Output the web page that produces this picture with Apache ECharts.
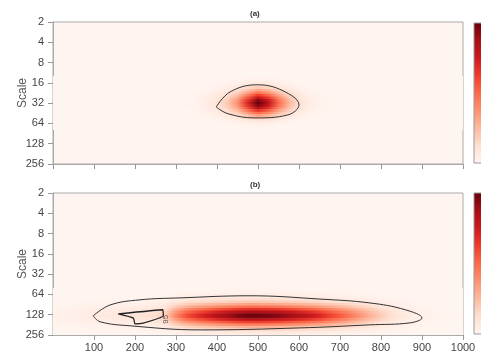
<!DOCTYPE html>
<html><head><meta charset="utf-8">
<script src="https://cdn.jsdelivr.net/npm/echarts@6/dist/echarts.min.js"></script>
<style>html,body{margin:0;padding:0;background:#fff}#c{width:481px;height:356px}</style>
</head><body><div id="c"></div>
<script>
// ---- data ----
const xTicks = [0,100,200,300,400,500,600,700,800,900,1000];
const yTicks = [2,4,8,16,32,64,128,256];
const panelTitles = ['(a)','(b)'];
const colorStops = ['#fff5f0','#fee0d2','#fcbba1','#fc9272','#fb6a4a','#ef3b2c','#cb181d','#a50f15','#67000d'];

// panel (a): power profile along time and along log2(scale)
const aX    = [0,300,325,350,375,400,425,450,475,500,525,550,575,600,625,650,675,700,1000];
const aXVal = [0,0,0.01,0.02,0.05,0.1,0.2,0.38,0.7,1.0,0.8,0.5,0.27,0.12,0.05,0.02,0.01,0,0];
const aLog2 = [3.75,3.875,4,4.125,4.25,4.375,4.5,4.625,4.75,4.875,5,5.125,5.25,5.375,5.5,5.625,5.75,5.875,6,6.125,6.25];
const aLVal = [0.01,0.03,0.06,0.11,0.2,0.32,0.47,0.63,0.8,0.93,1.0,0.95,0.83,0.67,0.5,0.34,0.21,0.11,0.05,0.02,0.01];
const aContour = [[398,36.5],[432,21.8],[498,17.1],[561,21],[600,34],[573,47.8],[493,53],[427,46],[398,36.5]];

// panel (b)
const bX    = [0,25,50,75,100,125,150,175,200,225,250,275,300,325,350,375,400,425,450,475,500,525,550,575,600,625,650,675,700,725,750,775,800,825,850,875,900,925,950,975,1000];
const bXVal = [0.02,0.03,0.04,0.05,0.06,0.07,0.08,0.09,0.1,0.11,0.13,0.2,0.42,0.58,0.68,0.76,0.84,0.9,0.96,1.0,1.0,0.98,0.95,0.9,0.85,0.79,0.72,0.63,0.55,0.46,0.37,0.28,0.2,0.13,0.08,0.05,0.03,0.02,0.01,0,0];
const bLog2 = [5.75,5.875,6,6.125,6.25,6.375,6.5,6.625,6.75,6.875,7,7.125,7.25,7.375,7.5,7.625,7.75,7.875,8];
const bLVal = [0.01,0.02,0.04,0.07,0.12,0.2,0.32,0.48,0.66,0.85,0.98,0.97,0.82,0.62,0.44,0.28,0.16,0.08,0.04];
const bContour = [[98,133],[139,92],[212,77],[310,72],[480,67],[651,75],[773,85.6],[859,108],[900,143],[871,169],[773,181],[602,201],[359,215],[188,187],[115,163],[98,133]];
const bInner = [[159,124.6],[268,108],[269,133],[220,171],[200,175],[196,144],[159,124.6]];
const bInnerLabel = [[275,150]];
const bInnerText = '95';

// ---- helpers ----
function hex(c){return [parseInt(c.slice(1,3),16),parseInt(c.slice(3,5),16),parseInt(c.slice(5,7),16)];}
const stopsRGB = colorStops.map(hex);
function cmap(v){
  v = Math.max(0, Math.min(1, v));
  const t = v*(stopsRGB.length-1), i = Math.min(Math.floor(t), stopsRGB.length-2), f = t-i;
  const a = stopsRGB[i], b = stopsRGB[i+1];
  return 'rgb(' + [0,1,2].map(k => Math.round(a[k]+(b[k]-a[k])*f)).join(',') + ')';
}
const STEP = 0.125;
function heatSeries(idx, xs, xv, ls, lv){
  return {
    type:'custom', xAxisIndex:idx, yAxisIndex:idx, silent:true, clip:true, z:1,
    data: ls.map((l,i)=>[500, Math.pow(2,l), i]),
    encode:{x:0, y:1},
    renderItem: function(params, api){
      const i = api.value(2);
      const l = ls[i];
      const p0 = api.coord([0, Math.pow(2, l-STEP/2)]);
      const p1 = api.coord([1000, Math.pow(2, l+STEP/2)]);
      const y0 = Math.min(p0[1],p1[1]) - 0.3, y1 = Math.max(p0[1],p1[1]) + 0.3;
      const stops = xs.map((x,j)=>({offset:x/1000, color:cmap(xv[j]*lv[i])}));
      return {type:'rect', shape:{x:p0[0], y:y0, width:p1[0]-p0[0], height:y1-y0},
        style:{fill:new echarts.graphic.LinearGradient(0,0,1,0,stops)}};
    }
  };
}
function lineSeries(idx, d){
  return {type:'line', xAxisIndex:idx, yAxisIndex:idx, data:d, smooth:0.4, symbol:'none',
    lineStyle:{color:'#333', width:1}, silent:true, z:3};
}
const FONT = 'Liberation Sans, Arial, sans-serif';
const grids = [{left:53, top:22, width:410, height:142}, {left:53, top:193, width:410, height:142}];
const chart = echarts.init(document.getElementById('c'), null, {renderer:'canvas'});
chart.setOption({
  animation:false,
  backgroundColor:'#fff',
  grid: grids.map(g=>Object.assign({show:true, borderColor:'#aaa', borderWidth:1, backgroundColor:colorStops[0]}, g)),
  xAxis: [0,1].map(i=>({gridIndex:i, type:'value', min:xTicks[0], max:xTicks[xTicks.length-1], interval:100,
    axisLine:{show:true, lineStyle:{color:'#aaa'}}, axisTick:{show:true, length:5, lineStyle:{color:'#999'}},
    splitLine:{show:false},
    axisLabel:{show:i===1, showMinLabel:false, color:'#444', fontSize:11, fontFamily:FONT, margin:7, formatter:v=>String(v)}})),
  yAxis: [0,1].map(i=>({gridIndex:i, type:'log', logBase:2, min:yTicks[0], max:yTicks[yTicks.length-1], interval:1, inverse:true,
    name:'Scale', nameLocation:'middle', nameGap:24, nameMoveOverlap:false,
    nameTextStyle:{color:'#555', fontSize:12, fontFamily:FONT},
    axisLine:{show:true, lineStyle:{color:'#aaa'}}, axisTick:{show:true, length:5, lineStyle:{color:'#999'}},
    splitLine:{show:false},
    axisLabel:{color:'#444', fontSize:11, fontFamily:FONT, margin:9, formatter:v=>String(Math.round(v))}})),
  series:[
    heatSeries(0, aX, aXVal, aLog2, aLVal),
    heatSeries(1, bX, bXVal, bLog2, bLVal),
    lineSeries(0, aContour),
    lineSeries(1, bContour),
    Object.assign(lineSeries(1, bInner), {smooth:0.15, lineStyle:{color:'#222', width:1.3}}),
    {type:'scatter', xAxisIndex:1, yAxisIndex:1, data:bInnerLabel, symbolSize:0, silent:true, z:4,
      label:{show:true, position:'inside', formatter:bInnerText, rotate:90, fontSize:8, color:'#333', fontFamily:FONT}}
  ],
  graphic: [
    {type:'text', left:250, top:10, style:{text:panelTitles[0], font:'bold 8px '+FONT, fill:'#333'}},
    {type:'text', left:250, top:181, style:{text:panelTitles[1], font:'bold 8px '+FONT, fill:'#333'}},
    {type:'rect', shape:{x:474, y:23, width:14, height:140}, style:{stroke:'#999', lineWidth:1,
      fill:new echarts.graphic.LinearGradient(0,1,0,0, colorStops.map((c,i)=>({offset:i/(colorStops.length-1), color:c})))}},
    {type:'rect', shape:{x:474, y:193, width:14, height:141}, style:{stroke:'#999', lineWidth:1,
      fill:new echarts.graphic.LinearGradient(0,1,0,0, colorStops.map((c,i)=>({offset:i/(colorStops.length-1), color:c})))}}
  ]
});
</script></body></html>
